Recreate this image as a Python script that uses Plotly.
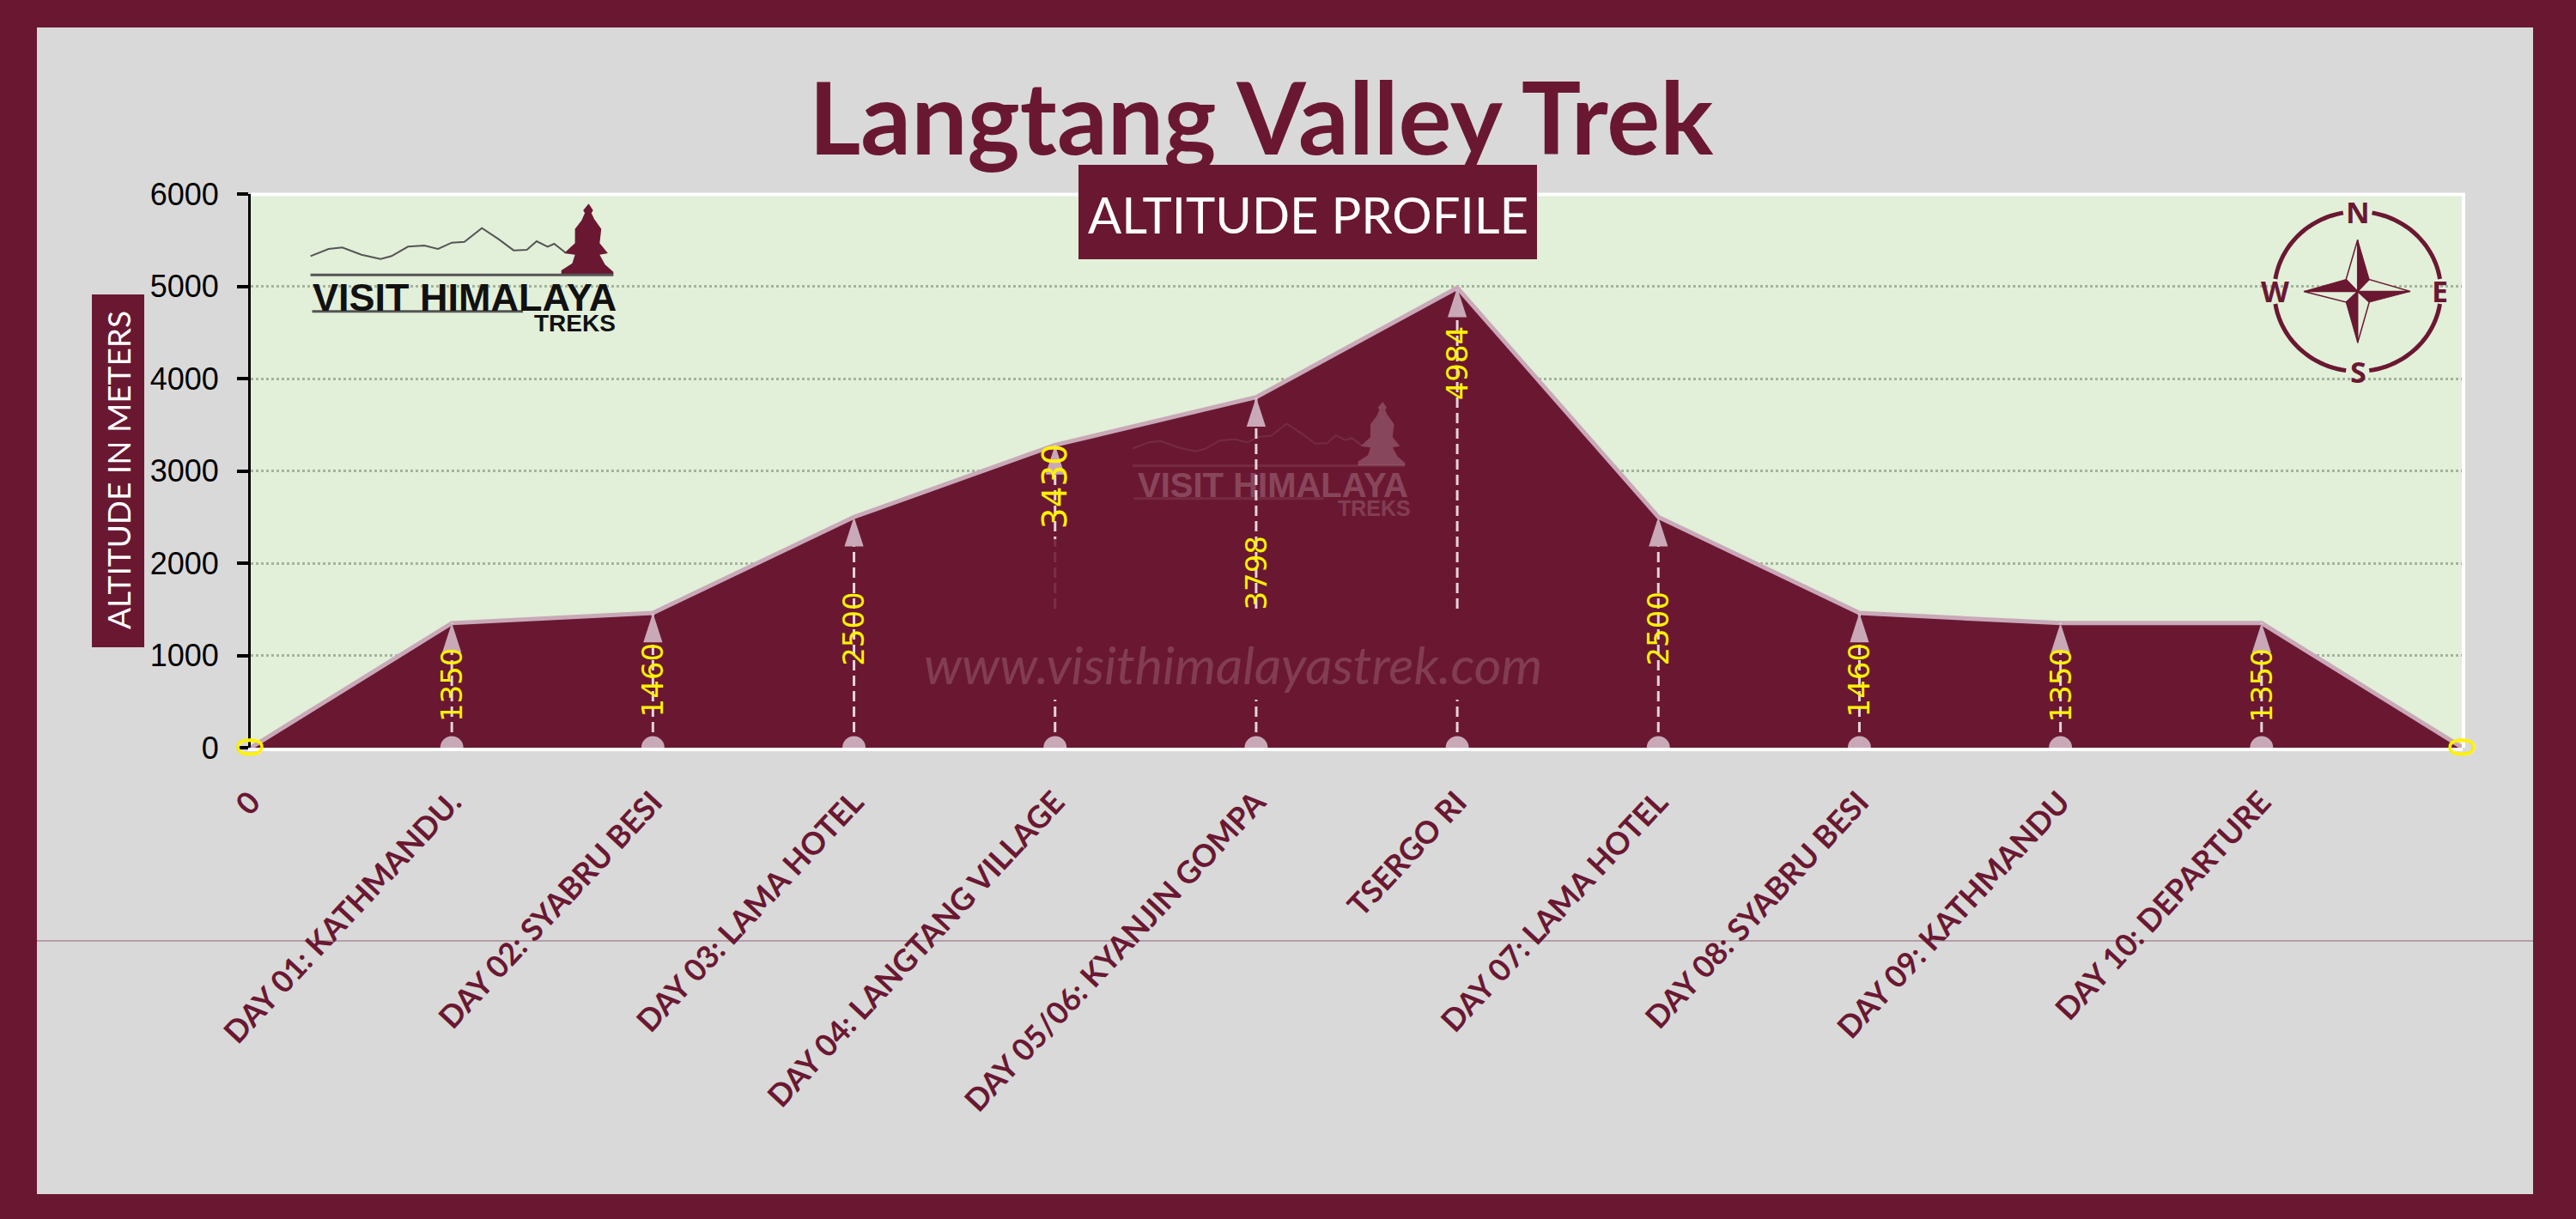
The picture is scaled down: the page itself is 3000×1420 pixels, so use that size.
import math
import plotly.graph_objects as go

# ---- data ----
categories = ["0", "DAY 01: KATHMANDU.", "DAY 02: SYABRU BESI", "DAY 03: LAMA HOTEL",
              "DAY 04: LANGTANG VILLAGE", "DAY 05/06: KYANJIN GOMPA", "TSERGO RI",
              "DAY 07: LAMA HOTEL", "DAY 08: SYABRU BESI", "DAY 09: KATHMANDU",
              "DAY 10: DEPARTURE", ""]
altitudes = [0, 1350, 1460, 2500, 3280, 3798, 4984, 2500, 1460, 1350, 1350, 0]
value_labels = ["0", "1350", "1460", "2500", "3430", "3798", "4984", "2500", "1460", "1350", "1350", "0"]
y_ticks = [0, 1000, 2000, 3000, 4000, 5000, 6000]

# ---- style ----
W, H = 3000, 1420
MAROON = "#6A1832"
GRAY = "#D9D9D9"
GREEN = "#E2EFD9"
PINK = "#C9A9B8"
YELLOW = "#FFF200"
PL, PR, PT, PB = 292, 2868, 226, 871
label_drop_px = [0, 72, 78, 130, 48, 204, 88, 130, 78, 72, 72, 0]
label_font_px = [40, 34, 34, 34, 39, 34, 34, 34, 34, 34, 34, 40]
x_pos = list(range(len(categories)))


def X(p):
    return p / W


def Y(p):
    return 1 - p / H


def path(points, close=True):
    s = "M" + " L".join(f"{X(a):.5f},{Y(b):.5f}" for a, b in points)
    return s + (" Z" if close else "")


shapes, annos = [], []


def rect(x0, y0, x1, y1, color, layer="below", opacity=1):
    shapes.append(dict(type="rect", xref="paper", yref="paper", x0=X(x0), x1=X(x1), y0=Y(y0), y1=Y(y1),
                       fillcolor=color, line=dict(width=0), layer=layer, opacity=opacity))


def hline(x0, x1, y, color, width, layer="below", opacity=1):
    shapes.append(dict(type="line", xref="paper", yref="paper", x0=X(x0), x1=X(x1), y0=Y(y), y1=Y(y),
                       line=dict(color=color, width=width), layer=layer, opacity=opacity))


def poly(points, fill=None, line=None, width=0, close=True, layer="above", opacity=1):
    shapes.append(dict(type="path", xref="paper", yref="paper", path=path(points, close),
                       fillcolor=fill if fill else "rgba(0,0,0,0)",
                       line=dict(color=line if line else "rgba(0,0,0,0)", width=width),
                       layer=layer, opacity=opacity))


def text(s, x, y, size, color, family="Lato", bold=False, angle=0, opacity=1, italic=False):
    annos.append(dict(text=f"<b>{s}</b>" if bold else s, xref="paper", yref="paper", x=X(x), y=Y(y),
                      xanchor="center", yanchor="middle", showarrow=False, textangle=angle, opacity=opacity,
                      font=dict(size=size, color=color, family=family, style="italic" if italic else "normal")))


# page panel
rect(43, 32, 2950, 1391, GRAY)
rect(PL, PT, PR, PB, GREEN)
hline(43, 2950, 1096, "#A88A96", 1.5)

# axis title box
rect(107, 343, 168, 754, MAROON)
text("ALTITUDE IN METERS", 138, 548, 37, "#FFFFFF", angle=-90)

# title
text("Langtang Valley Trek", 1468, 136, 116, MAROON, bold=True)
# white chart frame
hline(PL, 2871, 226.5, "#FFFFFF", 4, layer="above")
shapes.append(dict(type="line", xref="paper", yref="paper", x0=X(2869), x1=X(2869), y0=Y(226), y1=Y(871),
                   line=dict(color="#FFFFFF", width=4), layer="above"))
# subtitle box
rect(1256, 192, 1790, 302, MAROON, layer="above")
text("ALTITUDE PROFILE", 1523, 250, 58, "#FFFFFF")


def logo(tx, opacity=1, line_opacity=1, stupa=MAROON, lineink="#555555"):
    m = [(567, 895), (600, 870), (625, 865), (660, 890), (695, 905), (715, 895), (745, 862), (775, 858),
         (800, 870), (825, 848), (848, 845), (880, 797), (910, 835), (938, 875), (962, 873), (980, 843),
         (1000, 862), (1012, 852), (1032, 882)]
    s = [(1075, 712), (1083, 735), (1080, 745), (1085, 765), (1098, 800), (1095, 850), (1110, 885), (1095, 890),
         (1105, 925), (1120, 950), (1120, 960), (1025, 960), (1025, 945), (1045, 920), (1050, 890), (1030, 885),
         (1050, 850), (1050, 800), (1062, 770), (1068, 745), (1065, 735)]
    poly([tx(a, b) for a, b in m], line=lineink, width=2, close=False, opacity=line_opacity)
    poly([tx(a, b) for a, b in s], fill=stupa, opacity=opacity)
    poly([tx(567, 961), tx(1120, 961)], line=lineink, width=3, close=False, opacity=line_opacity)
    poly([tx(570, 1088), tx(955, 1088)], line=lineink, width=3, close=False, opacity=line_opacity)


# top-left logo
logo(lambda a, b: (a / 1.568, b / 3))
text("VISIT HIMALAYA", 541, 346, 45, "#111111", family="Liberation Sans", bold=True)
text("TREKS", 669, 376, 28, "#111111", family="Liberation Sans", bold=True)

# mask that interrupts the leader lines, and the watermark on it
rect(1100, 712, 1800, 815, MAROON, layer="above")
rect(1212, 628, 1244, 712, MAROON, layer="above", opacity=0.88)
logo(lambda a, b: (1482 + 0.9 * (a / 1.568 - 543), 563 + 0.9 * (b / 3 - 343)),
     opacity=0.2, line_opacity=0.08, stupa="#FFFFFF", lineink="#FFFFFF")
text("VISIT HIMALAYA", 1482, 565, 40, "#FFFFFF", family="Liberation Sans", bold=True, opacity=0.2)
text("TREKS", 1600, 592, 25, "#FFFFFF", family="Liberation Sans", bold=True, opacity=0.16)
text("www.visithimalayastrek.com", 1436, 773, 61, "#FFFFFF", italic=True, opacity=0.16)

# compass
cx, cy, rx, ry = 2745.7, 339.5, 97, 93


def arc(a0, a1, n=24):
    return [(cx + rx * math.cos(math.radians(a0 + (a1 - a0) * i / n)),
             cy - ry * math.sin(math.radians(a0 + (a1 - a0) * i / n))) for i in range(n + 1)]


for a0, a1 in [(9, 80), (100, 171), (189, 262), (278, 351)]:
    poly(arc(a0, a1), line=MAROON, width=5, close=False)
tN, tS, tW, tE = (cx, 279.3), (cx, 399.3), (2683, cy), (2807, cy)
cNE, cSE, cSW, cNW = (cx + 13.5, cy - 14), (cx + 13.5, cy + 12.5), (cx - 13.5, cy + 12.5), (cx - 13.5, cy - 14)
c = (cx, cy)
for tip, filled, empty in [(tN, cNE, cNW), (tE, cSE, cNE), (tS, cSW, cSE), (tW, cNW, cSW)]:
    poly([c, tip, filled], fill=MAROON, line=MAROON, width=1)
    poly([c, tip, empty], fill=GREEN, line=MAROON, width=1.5)
for s, a, b in [("N", 2745.7, 247), ("S", 2746.5, 433), ("W", 2649, 339), ("E", 2841, 339)]:
    text(s, a, b, 34, MAROON, family="Open Sans", bold=True)

# value labels through the chart's own axes
for xv, yv, lab, drop, fs in zip(x_pos, altitudes, value_labels, label_drop_px, label_font_px):
    annos.append(dict(text=lab, x=xv, y=yv, xref="x", yref="y", showarrow=False, textangle=-90,
                      xanchor="center", yanchor="middle", yshift=-drop,
                      font=dict(family="DejaVu Sans", size=fs, color=YELLOW)))

fig = go.Figure()
fig.add_trace(go.Scatter(x=x_pos, y=altitudes, mode="lines", fill="tozeroy", fillcolor=MAROON,
                         line=dict(color=PINK, width=5), hoverinfo="skip", showlegend=False))

inner_x = x_pos[1:-1]
inner_y = altitudes[1:-1]
drop_x, drop_y = [], []
for a, b in zip(inner_x, inner_y):
    drop_x += [a, a, None]
    drop_y += [0, b, None]
fig.add_trace(go.Scatter(x=drop_x, y=drop_y, mode="lines", line=dict(color="#E6D3DB", width=3, dash="12px,6px"),
                         hoverinfo="skip", showlegend=False))
fig.add_trace(go.Scatter(x=inner_x, y=inner_y, mode="markers",
                         marker=dict(symbol="arrow", size=36, color=PINK, line=dict(width=0)),
                         hoverinfo="skip", showlegend=False))
fig.add_trace(go.Scatter(x=inner_x, y=[0] * len(inner_x), mode="markers",
                         marker=dict(symbol="circle", size=27, color=PINK, line=dict(width=0)),
                         hoverinfo="skip", showlegend=False))

fig.update_layout(
    width=W, height=H, autosize=False, margin=dict(l=0, r=0, t=0, b=0),
    paper_bgcolor=MAROON, plot_bgcolor=GREEN, showlegend=False,
    shapes=shapes, annotations=annos,
    xaxis=dict(domain=[X(PL), X(PR)], range=[0, 11], tickmode="array", tickvals=x_pos, ticktext=categories,
               tickangle=-47, tickfont=dict(family="Lato", size=36, color=MAROON, weight="bold"),
               showgrid=False, zeroline=False, showline=True, linecolor="#FFFFFF", linewidth=4, ticks="",
               ticklabelstandoff=24, automargin=False),
    yaxis=dict(domain=[Y(PB), Y(PT)], range=[0, 6000], tickmode="array", tickvals=y_ticks,
               tickfont=dict(family="Liberation Sans", size=36, color="#000000"),
               showgrid=True, gridcolor="#A4B49C", griddash="dot", gridwidth=2.5, zeroline=False,
               showline=True, linecolor="#000000", linewidth=3, ticks="outside", ticklen=13, tickwidth=4,
               tickcolor="#000000", ticklabelstandoff=14, automargin=False),
)
fig.write_html("out.html", config={"displayModeBar": False},
               post_script="document.body.style.margin='0';document.body.style.background='#6A1832';")
